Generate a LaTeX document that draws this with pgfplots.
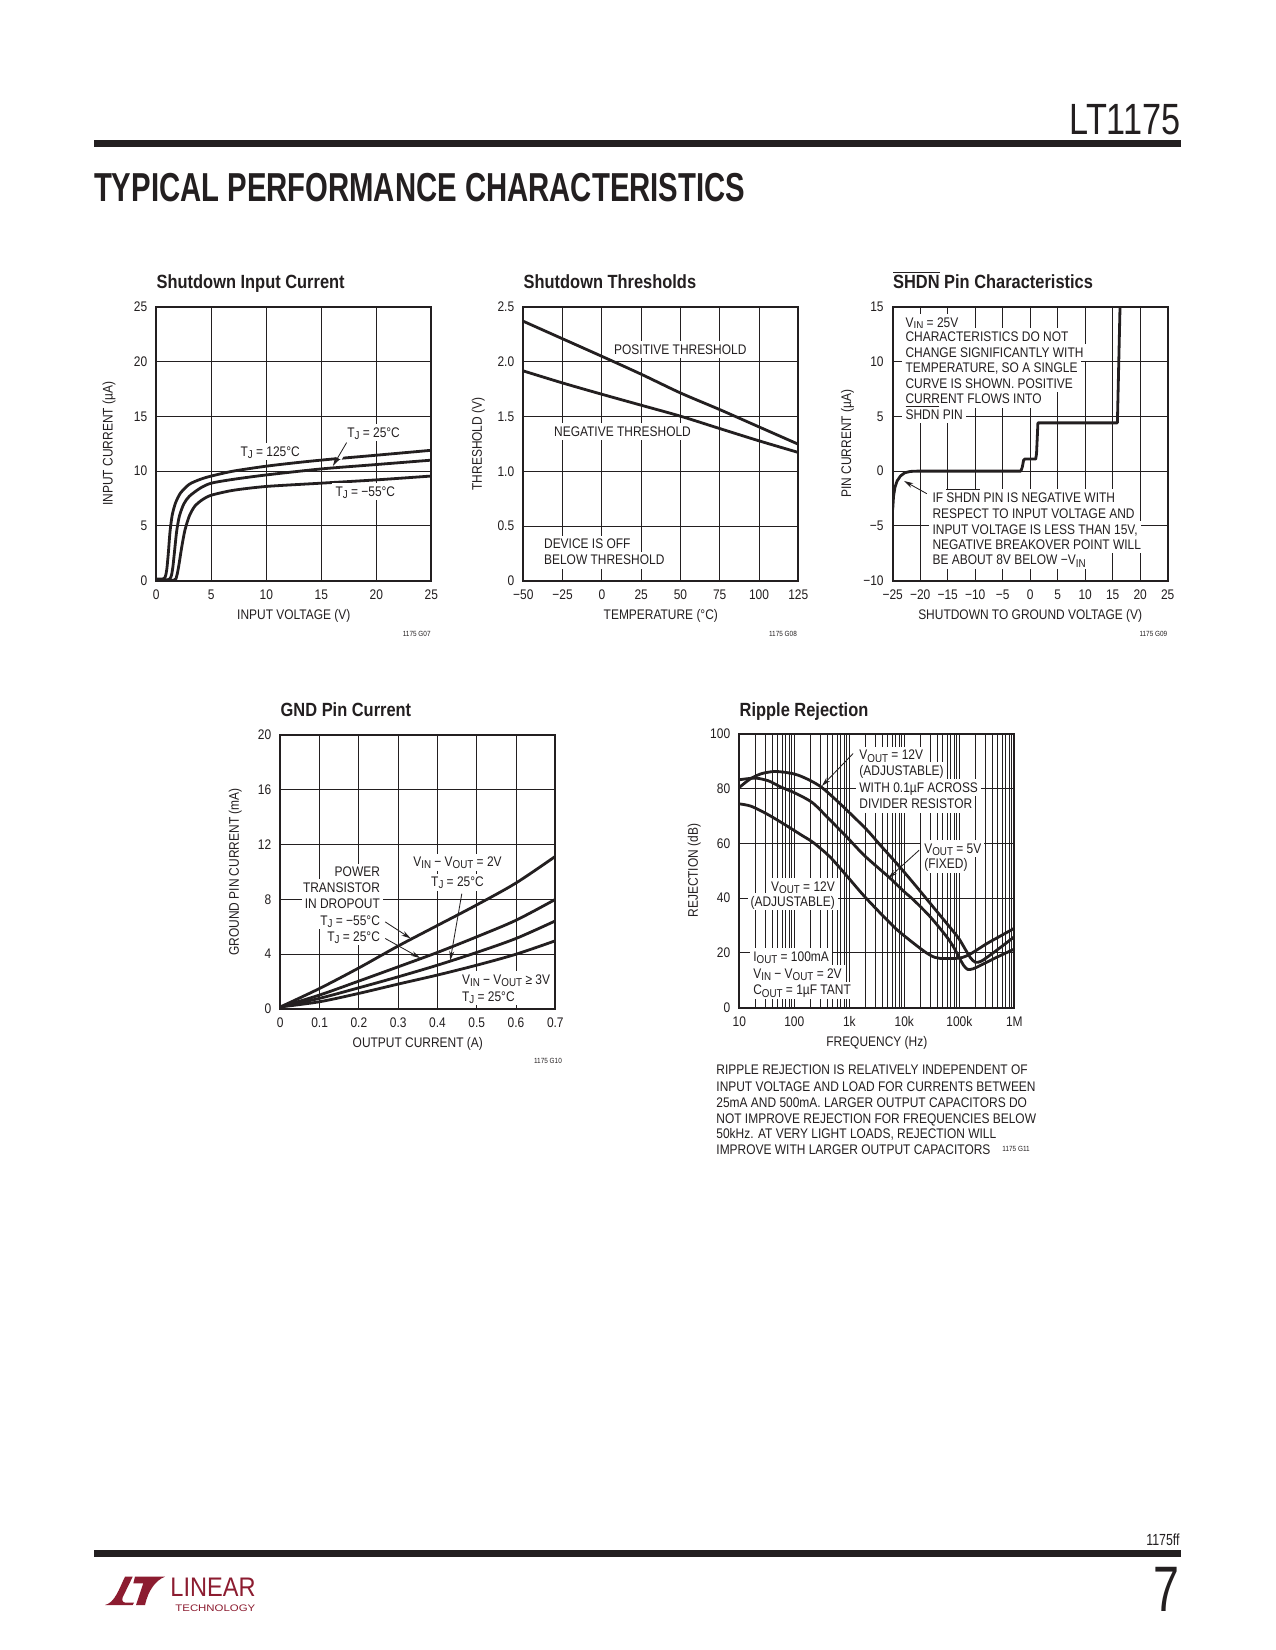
\documentclass[border=0pt]{standalone}
\usepackage{pgfplots}
\pgfplotsset{compat=1.18}
\usepackage{fontspec}
\usepackage{graphicx}
\setmainfont[FakeStretch=0.86]{Liberation Sans}
\usetikzlibrary{arrows.meta}
\definecolor{ink}{RGB}{35,31,32}
\definecolor{ltred}{RGB}{140,28,48}
\newcommand\lab{\fontsize{6.7pt}{7.6pt}\selectfont}
\newcommand\ttl{\fontsize{9.2pt}{10pt}\selectfont\bfseries}
\newcommand\fcode{\fontsize{3.6pt}{4pt}\selectfont}
\newcommand\sub[1]{\raisebox{-0.3ex}{\fontsize{5.5pt}{6pt}\selectfont #1}}
\newcommand\ovl[1]{$\overline{\hbox{#1}}$}
\pgfplotsset{
  lt/.style={
    scale only axis, width=132.5pt, height=132pt, anchor=south west,
    axis line style={line width=0.9pt, ink},
    grid=major, major grid style={line width=0.4pt, ink},
    major tick length=0pt, minor tick length=0pt,
    tick label style={font=\lab, inner sep=0pt, text=ink},
    xticklabel style={anchor=north, yshift=-4.2pt},
    yticklabel style={anchor=east, xshift=-4.2pt},
    label style={font=\lab, text=ink, inner sep=0pt},
    xlabel style={at={(axis description cs:0.5,-0.128)}, anchor=center},
    ylabel style={at={(axis description cs:-0.164,0.5)}, anchor=center},
    every axis plot/.append style={line width=1.35pt, ink},
    clip mode=individual,
  },
}
\tikzset{
  lbl/.style={fill=white, inner xsep=1.5pt, inner ysep=1.6pt, text height=4.8pt, text depth=0.2pt, font=\lab, text=ink},
  arr/.style={-{Stealth[length=4.5pt,width=2.4pt]}, line width=0.4pt, ink},
}
\begin{document}
\begin{tikzpicture}[x=0.4818pt, y=-0.4818pt]
\fill[white] (0,0) rectangle (1275,1650);
% ---------- page header ----------
\node[anchor=base east, inner sep=0, text=ink] at (1181,135) {\resizebox{53.5pt}{14.5pt}{LT1175}};
\fill[ink] (93.6,140) rectangle (1181,147);
\node[anchor=base west, inner sep=0, text=ink] at (93.6,202) {\resizebox{313.7pt}{13.6pt}{\bfseries TYPICAL PERFORMANCE CHARACTERISTICS}};
% ---------- titles ----------
\node[anchor=base west, inner sep=0, text=ink] at (156.3,288.3) {\ttl Shutdown Input Current};
\node[anchor=base west, inner sep=0, text=ink] at (523.3,288.3) {\ttl Shutdown Thresholds};
\node[anchor=base west, inner sep=0, text=ink] at (892.7,288.3) {\ttl \ovl{SHDN} Pin Characteristics};
\node[anchor=base west, inner sep=0, text=ink] at (280.3,716) {\ttl GND Pin Current};
\node[anchor=base west, inner sep=0, text=ink] at (739.3,716) {\ttl Ripple Rejection};
% ---------- chart 1 ----------
\begin{axis}[lt, at={({156.3*0.4818pt},{-580.7*0.4818pt})}, xmin=0, xmax=25, ymin=0, ymax=25,
  xtick={0,5,10,15,20,25}, xticklabels={0,5,10,15,20,25},
  ytick={0,5,10,15,20,25}, yticklabels={0,5,10,15,20,25},
  xlabel={INPUT VOLTAGE (V)}, ylabel={INPUT CURRENT (µA)},
  ylabel style={at={(axis description cs:-0.172,0.5)}}]
\addplot[smooth, tension=0.45] coordinates {(0,0.15)(0.6,0.15)(0.8,0.3)(0.95,1.0)(1.1,2.6)(1.25,4.5)(1.45,6.0)(1.75,7.1)(2.2,8.0)(3,8.8)(4,9.25)(5,9.55)(7,10.0)(10,10.45)(13,10.8)(16,11.1)(20,11.45)(25,11.9)};
\addplot[smooth, tension=0.45] coordinates {(0,0.1)(1.1,0.1)(1.35,0.4)(1.5,1.2)(1.65,2.6)(1.85,4.5)(2.1,5.9)(2.5,7.0)(3,7.7)(4,8.45)(5,8.9)(7,9.25)(10,9.65)(15,10.2)(20,10.6)(25,11.0)};
\addplot[smooth, tension=0.45] coordinates {(0,0.02)(1.6,0.05)(1.85,0.4)(2.05,1.4)(2.3,3.0)(2.6,4.6)(3,5.9)(3.5,6.8)(4.2,7.4)(5,7.8)(7,8.25)(10,8.6)(15,8.9)(20,9.2)(25,9.55)};
\draw[white, line width=4pt] (axis cs:17.3,12.6) -- (axis cs:16.5,11.2);
\draw[arr] (axis cs:17.3,12.6) -- (axis cs:16.05,10.46);
\node[lbl] at (axis cs:10.35,11.77) {T\sub{J} = 125°C};
\node[lbl] at (axis cs:19.75,13.5) {T\sub{J} = 25°C};
\node[lbl] at (axis cs:19.0,8.1) {T\sub{J} = −55°C};
\end{axis}
\node[anchor=east, inner sep=0, text=ink] at (431,634.3) {\fcode 1175 G07};
% ---------- chart 2 ----------
\begin{axis}[lt, at={({523.3*0.4818pt},{-581*0.4818pt})}, xmin=-50, xmax=125, ymin=0, ymax=2.5,
  xtick={-50,-25,0,25,50,75,100,125}, xticklabels={−50,−25,0,25,50,75,100,125},
  ytick={0,0.5,1,1.5,2,2.5}, yticklabels={0,0.5,1.0,1.5,2.0,2.5},
  xlabel={TEMPERATURE (°C)}, ylabel={THRESHOLD (V)}]
\addplot[smooth] coordinates {(-50,2.37)(-25,2.21)(0,2.05)(25,1.887)(50,1.716)(75,1.564)(100,1.406)(125,1.248)};
\addplot[smooth] coordinates {(-50,1.917)(-25,1.807)(0,1.704)(25,1.604)(50,1.504)(75,1.391)(100,1.279)(125,1.173)};
\node[lbl, anchor=west] at (axis cs:5.6,2.113) {POSITIVE THRESHOLD};
\node[lbl, anchor=west] at (axis cs:-32.6,1.364) {NEGATIVE THRESHOLD};
\node[lbl, anchor=west] at (axis cs:-39,0.337) {DEVICE IS OFF};
\node[lbl, anchor=west] at (axis cs:-39,0.191) {BELOW THRESHOLD};
\end{axis}
\node[anchor=east, inner sep=0, text=ink] at (797.3,634.3) {\fcode 1175 G08};
% ---------- chart 3 ----------
\begin{axis}[lt, at={({892.7*0.4818pt},{-580.7*0.4818pt})}, xmin=-25, xmax=25, ymin=-10, ymax=15,
  xtick={-25,-20,-15,-10,-5,0,5,10,15,20,25}, xticklabels={−25,−20,−15,−10,−5,0,5,10,15,20,25},
  ytick={-10,-5,0,5,10,15}, yticklabels={−10,−5,0,5,10,15},
  xlabel={SHUTDOWN TO GROUND VOLTAGE (V)}, ylabel={PIN CURRENT (µA)}]
\addplot[line join=round] coordinates {(-25,-3.5)(-24.85,-2.3)(-24.6,-1.5)(-24.2,-0.9)(-23.6,-0.45)(-22.8,-0.15)(-21.8,-0.03)(-20.5,0)(-1.7,0)(-1.45,0.35)(-1.2,1.0)(-1.0,1.1)(1.0,1.1)(1.15,1.6)(1.4,4.4)(15.85,4.4)(16.35,15.5)};
\node[lbl, anchor=west] at (axis cs:-23.3,13.55) {V\sub{IN} = 25V};
\node[lbl, anchor=west] at (axis cs:-23.3,12.24) {CHARACTERISTICS DO NOT};
\node[lbl, anchor=west] at (axis cs:-23.3,10.82) {CHANGE SIGNIFICANTLY WITH};
\node[lbl, anchor=west] at (axis cs:-23.3,9.4) {TEMPERATURE, SO A SINGLE};
\node[lbl, anchor=west] at (axis cs:-23.3,8.0) {CURVE IS SHOWN. POSITIVE};
\node[lbl, anchor=west] at (axis cs:-23.3,6.58) {CURRENT FLOWS INTO};
\node[lbl, anchor=west] at (axis cs:-23.3,5.15) {\ovl{SHDN} PIN};
\draw[arr] (axis cs:-18.8,-2.06) -- (axis cs:-22.94,-0.9);
\node[lbl, anchor=west] at (axis cs:-18.4,-2.42) {IF \ovl{SHDN} PIN IS NEGATIVE WITH};
\node[lbl, anchor=west] at (axis cs:-18.4,-3.88) {RESPECT TO INPUT VOLTAGE AND};
\node[lbl, anchor=west] at (axis cs:-18.4,-5.33) {INPUT VOLTAGE IS LESS THAN 15V,};
\node[lbl, anchor=west] at (axis cs:-18.4,-6.7) {NEGATIVE BREAKOVER POINT WILL};
\node[lbl, anchor=west] at (axis cs:-18.4,-8.12) {BE ABOUT 8V BELOW −V\sub{IN}};
\end{axis}
\node[anchor=east, inner sep=0, text=ink] at (1167.7,634) {\fcode 1175 G09};
% ---------- chart 4 ----------
\begin{axis}[lt, at={({280.3*0.4818pt},{-1009*0.4818pt})}, xmin=0, xmax=0.7, ymin=0, ymax=20,
  xtick={0,0.1,0.2,0.3,0.4,0.5,0.6,0.7}, xticklabels={0,0.1,0.2,0.3,0.4,0.5,0.6,0.7},
  ytick={0,4,8,12,16,20}, yticklabels={0,4,8,12,16,20},
  xlabel={OUTPUT CURRENT (A)}, ylabel={GROUND PIN CURRENT (mA)}]
\addplot[smooth] coordinates {(0,0.15)(0.1,1.5)(0.2,3.0)(0.3,4.6)(0.4,6.1)(0.5,7.6)(0.6,9.2)(0.7,11.14)};
\addplot[smooth] coordinates {(0,0.15)(0.1,1.02)(0.2,2.04)(0.3,3.08)(0.4,4.13)(0.5,5.27)(0.6,6.48)(0.7,8.0)};
\addplot[smooth] coordinates {(0,0.15)(0.1,0.78)(0.2,1.55)(0.3,2.35)(0.4,3.2)(0.5,4.13)(0.6,5.15)(0.7,6.43)};
\addplot[smooth] coordinates {(0,0.15)(0.1,0.53)(0.2,1.14)(0.3,1.82)(0.4,2.48)(0.5,3.2)(0.6,4.0)(0.7,4.98)};
\node[lbl, anchor=east] at (axis cs:0.2625,10.0) {POWER};
\node[lbl, anchor=east] at (axis cs:0.2625,8.85) {TRANSISTOR};
\node[lbl, anchor=east] at (axis cs:0.2625,7.7) {IN DROPOUT};
\node[lbl, anchor=east] at (axis cs:0.2625,6.48) {T\sub{J} = −55°C};
\node[lbl, anchor=east] at (axis cs:0.2625,5.27) {T\sub{J} = 25°C};
\draw[arr] (axis cs:0.267,6.36) -- (axis cs:0.332,5.15);
\draw[arr] (axis cs:0.267,5.15) -- (axis cs:0.356,3.72);
\node[lbl] at (axis cs:0.451,10.73) {V\sub{IN} − V\sub{OUT} = 2V};
\node[lbl] at (axis cs:0.451,9.27) {T\sub{J} = 25°C};
\draw[arr] (axis cs:0.462,8.42) -- (axis cs:0.4325,3.55);
\node[lbl, anchor=west] at (axis cs:0.4537,2.16) {V\sub{IN} − V\sub{OUT} ≥ 3V};
\node[lbl, anchor=west] at (axis cs:0.4537,0.9) {T\sub{J} = 25°C};
\end{axis}
\node[anchor=east, inner sep=0, text=ink] at (562.3,1060.7) {\fcode 1175 G10};
% ---------- chart 5 ----------
\begin{axis}[lt, at={({739.3*0.4818pt},{-1007.7*0.4818pt})}, xmode=log, xmin=10, xmax=1000000, ymin=0, ymax=100,
  xtick={10,100,1000,10000,100000,1000000}, xticklabels={10,100,1k,10k,100k,1M},
  xminorgrids=false, minor xtick={},
  extra x ticks={20,30,40,50,60,70,80,90,200,300,400,500,600,700,800,900,2000,3000,4000,5000,6000,7000,8000,9000,20000,30000,40000,50000,60000,70000,80000,90000,200000,300000,400000,500000,600000,700000,800000,900000},
  extra x tick labels={},
  extra x tick style={grid=major, major grid style={line width=0.4pt, ink}},
  ytick={0,20,40,60,80,100}, yticklabels={0,20,40,60,80,100},
  xlabel={FREQUENCY (Hz)}, ylabel={REJECTION (dB)}]
\addplot[smooth] coordinates {(10,80.4)(15.8,83.5)(25.1,85.4)(41.7,86.2)(63.1,86.0)(100,85.3)(135,84.4)(200,82.8)(316,80.4)(562,76.0)(891,72.2)(2089,64.9)(3631,59.4)(7244,52.7)(14791,45.4)(29512,38.1)(58884,30.8)(79433,27.6)(100000,25.0)(125893,21.6)(158489,18.3)(194984,16.6)(251189,17.0)(398107,19.8)(630957,22.8)(1000000,25.9)};
\addplot[smooth] coordinates {(10,83.2)(19.5,83.8)(33.9,82.8)(55,80.7)(100,78.5)(135,77.2)(224,74.5)(447,68.5)(891,62.4)(1778,56)(3162,51.5)(5495,47.3)(10000,42.3)(14791,39.3)(29512,33.2)(58884,25.9)(79433,22)(100000,18.2)(120226,15.4)(141254,14.0)(177828,14.2)(251189,15.6)(501187,18.6)(1000000,21.4)};
\addplot[smooth] coordinates {(10,74.4)(16.6,73.5)(33.9,70.4)(67.6,66.8)(135,63)(224,60.2)(447,55)(891,48.2)(1778,41.2)(3631,34.6)(7244,28.6)(14791,23.5)(25704,19.9)(35481,18.4)(44668,18.0)(89125,18.0)(112202,18.3)(158489,19.6)(316228,23.4)(562341,26.2)(1000000,29.0)};
\node[lbl, anchor=west] at (axis cs:1318,92.2) {V\sub{OUT} = 12V};
\node[lbl, anchor=west] at (axis cs:1318,86.4) {(ADJUSTABLE)};
\node[lbl, anchor=west] at (axis cs:1318,80.4) {WITH 0.1µF ACROSS};
\node[lbl, anchor=west] at (axis cs:1318,74.3) {DIVIDER RESISTOR};
\draw[arr] (axis cs:1175,92.8) -- (axis cs:316,80.9);
\node[lbl, anchor=west] at (axis cs:19953,58.2) {V\sub{OUT} = 5V};
\node[lbl, anchor=west] at (axis cs:19953,52.4) {(FIXED)};
\draw[arr] (axis cs:18621,57.5) -- (axis cs:5129,47.3);
\node[lbl, anchor=east] at (axis cs:631,44.2) {V\sub{OUT} = 12V};
\node[lbl, anchor=east] at (axis cs:631,38.6) {(ADJUSTABLE)};
\node[lbl, anchor=west] at (axis cs:15.5,18.6) {I\sub{OUT} = 100mA};
\node[lbl, anchor=west] at (axis cs:15.5,12.5) {V\sub{IN} − V\sub{OUT} = 2V};
\node[lbl, anchor=west] at (axis cs:15.5,6.4) {C\sub{OUT} = 1µF TANT};
\end{axis}
% caption
\node[lbl, fill=none, anchor=west, inner xsep=0pt] at (716,1070) {RIPPLE REJECTION IS RELATIVELY INDEPENDENT OF};
\node[lbl, fill=none, anchor=west, inner xsep=0pt] at (716,1086.7) {INPUT VOLTAGE AND LOAD FOR CURRENTS BETWEEN};
\node[lbl, fill=none, anchor=west, inner xsep=0pt] at (716,1102.7) {25mA AND 500mA. LARGER OUTPUT CAPACITORS DO};
\node[lbl, fill=none, anchor=west, inner xsep=0pt] at (716,1118.3) {NOT IMPROVE REJECTION FOR FREQUENCIES BELOW};
\node[lbl, fill=none, anchor=west, inner xsep=0pt] at (716,1133.3) {50kHz. AT VERY LIGHT LOADS, REJECTION WILL};
\node[lbl, fill=none, anchor=west, inner xsep=0pt] at (716,1149.3) {IMPROVE WITH LARGER OUTPUT CAPACITORS};
\node[anchor=west, inner sep=0, text=ink] at (1002,1149.3) {\fcode 1175 G11};
% ---------- footer ----------
\node[anchor=base east, inner sep=0, text=ink] at (1180,1545) {\resizebox{16pt}{5.6pt}{1175ff}};
\fill[ink] (93.6,1550) rectangle (1181,1557);
\node[anchor=base east, inner sep=0, text=ink] at (1180,1611.7) {\resizebox{12.5pt}{21.3pt}{7}};
% logo
\fill[ltred] (105,1605) .. controls (115,1602.7) and (119.3,1588.3) .. (125,1576.7) -- (132.7,1576.7) -- (122.7,1597.3) .. controls (121.3,1601.3) and (123.3,1602.7) .. (126.7,1602.7) -- (134,1602.7) -- (132.7,1605) -- cycle;
\fill[ltred] (135,1576.7) -- (165,1576.7) .. controls (156,1580) and (148.3,1590) .. (145,1605) -- (136,1605) -- (143.3,1583.3) -- (133.3,1583.3) -- cycle;
\node[anchor=base west, inner sep=0, text=ltred] at (170,1596.7) {\resizebox{41pt}{8.9pt}{LINEAR}};
\node[anchor=base west, inner sep=0, text=ltred] at (175,1611.7) {\resizebox{38.5pt}{3.2pt}{TECHNOLOGY}};
\pgfresetboundingbox
\path[use as bounding box] (0,0) rectangle (1275,1650);
\end{tikzpicture}
\end{document}
